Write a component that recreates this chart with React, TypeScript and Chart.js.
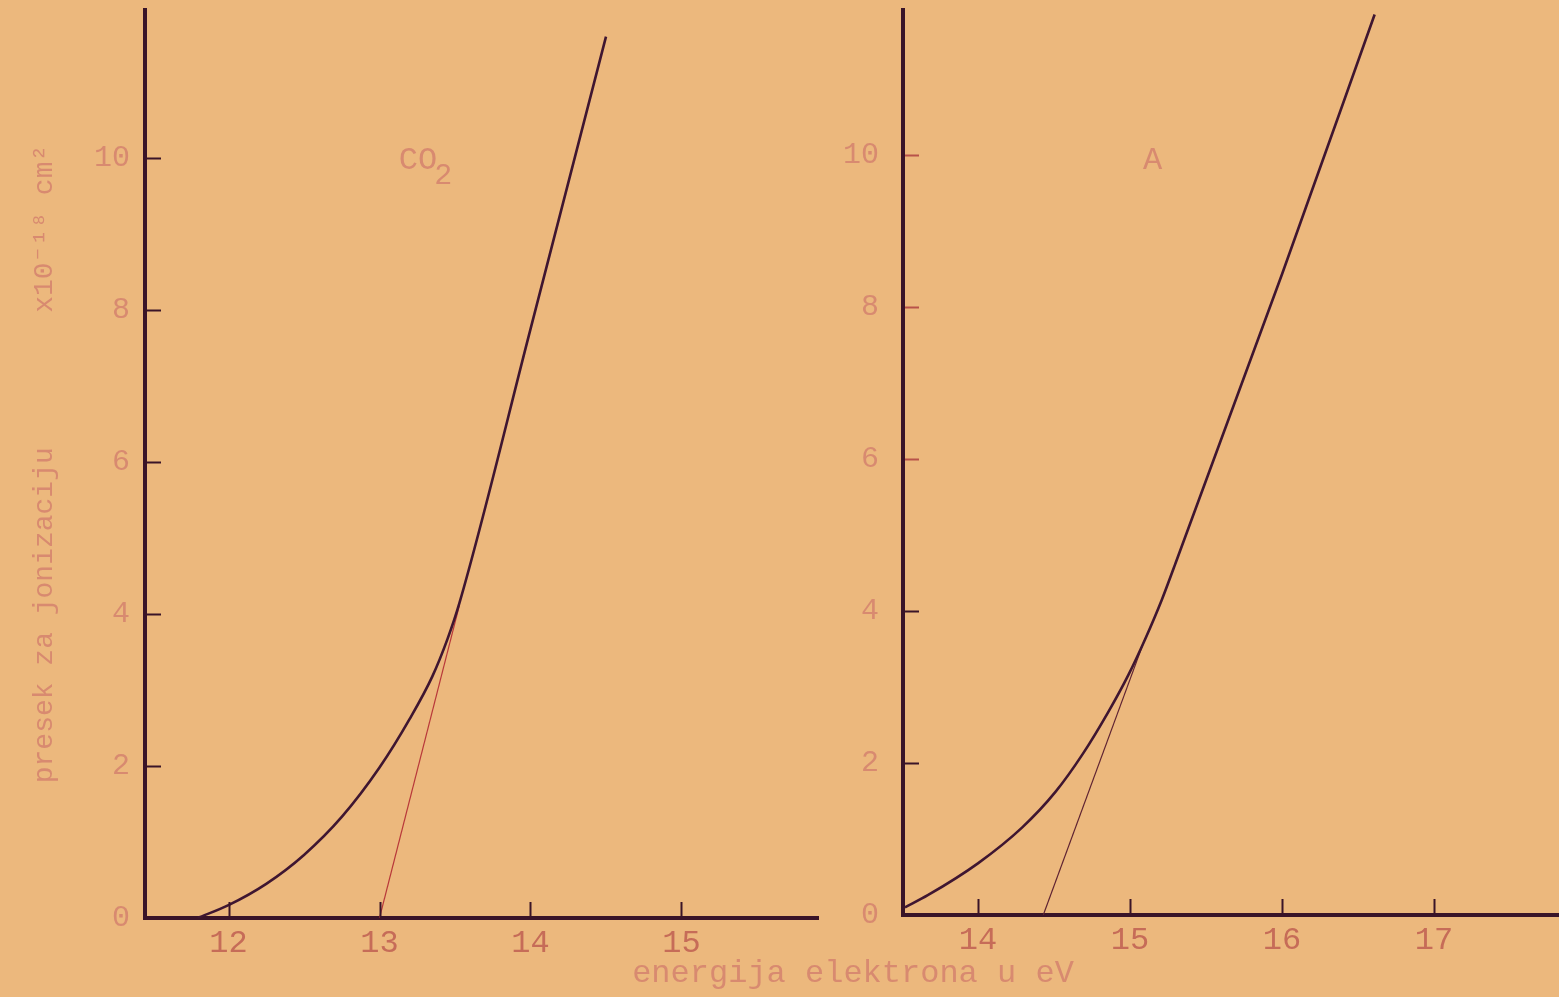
import React, { useEffect, useRef } from 'react';
import { Chart, registerables } from 'chart.js';

Chart.register(...registerables);

// ---- data ----
// CO2 panel
const co2Energy = [11.795, 12.0, 12.25, 12.5, 12.75, 13.0, 13.2, 13.35, 13.45, 13.53, 14.0, 14.5];
const co2Cross = [0, 0.17, 0.45, 0.83, 1.33, 1.98, 2.62, 3.18, 3.67, 4.15, 7.75, 11.6];
const co2TangentEnergy = [13.0, 13.53];
const co2TangentCross = [0, 4.12];
const co2XTicks = [12, 13, 14, 15];

// Argon panel
const arEnergy = [13.52, 13.67, 14.0, 14.29, 14.51, 14.69, 14.86, 14.99, 15.1, 15.21, 15.3, 16.0, 16.61];
const arCross = [0.1, 0.26, 0.68, 1.15, 1.62, 2.12, 2.68, 3.16, 3.63, 4.15, 4.63, 8.43, 11.85];
const arTangentEnergy = [14.43, 15.1];
const arTangentCross = [0, 3.64];
const arXTicks = [14, 15, 16, 17];

const yTicks = [0, 2, 4, 6, 8, 10];

const yTitle = 'presek za jonizaciju        x10⁻¹⁸ cm²';
const xTitle = 'energija elektrona u eV';

// ---- styles ----
const PAPER = '#ecb87d';
const AXIS = '#3a1428';
const CURVE = '#3f1631';
const INK_RED = '#c66c58';
const INK_FAINT = '#d88a70';
const FONT = '"Liberation Mono", "DejaVu Sans Mono", monospace';

const decorPlugin = {
  id: 'panelDecor',
  afterDraw(chart: any, _args: any, opts: any) {
    const ctx = chart.ctx;
    const xs = chart.scales.x;
    const ys = chart.scales.y;
    const area = chart.chartArea;
    ctx.save();
    ctx.lineCap = 'butt';
    // inward tick marks on x axis
    (opts.xTicks || []).forEach((v: number) => {
      const px = Math.round(xs.getPixelForValue(v)) + 0.5;
      ctx.strokeStyle = AXIS;
      ctx.lineWidth = 2;
      ctx.beginPath();
      ctx.moveTo(px, area.bottom);
      ctx.lineTo(px, area.bottom - opts.tickLen);
      ctx.stroke();
    });
    // inward tick marks on y axis
    (opts.yTicks || []).forEach((v: number, i: number) => {
      if (v === 0) return;
      const py = Math.round(ys.getPixelForValue(v)) + 0.5;
      ctx.strokeStyle = (opts.yTickColors && opts.yTickColors[i]) || AXIS;
      ctx.lineWidth = 2;
      ctx.beginPath();
      ctx.moveTo(area.left + 2, py);
      ctx.lineTo(area.left + opts.tickLen, py);
      ctx.stroke();
    });
    // gas label
    if (opts.label) {
      const lx = xs.getPixelForValue(opts.label.x);
      const ly = ys.getPixelForValue(opts.label.y);
      ctx.fillStyle = INK_FAINT;
      ctx.font = `32px ${FONT}`;
      ctx.textAlign = 'center';
      ctx.textBaseline = 'middle';
      ctx.fillText(opts.label.text, lx, ly);
      if (opts.label.sub) {
        const w = ctx.measureText(opts.label.text).width;
        ctx.font = `30px ${FONT}`;
        ctx.textAlign = 'left';
        ctx.fillText(opts.label.sub, lx + w / 2 - 3, ly + 16);
      }
    }
    ctx.restore();
  },
};

function pts(xs: number[], ys: number[]) {
  return xs.map((x, i) => ({ x, y: ys[i] }));
}

function makeConfig(p: any) {
  return {
    type: 'line',
    data: {
      datasets: [
        {
          data: pts(p.curveE, p.curveS),
          borderColor: CURVE,
          borderWidth: 2.6,
          pointRadius: 0,
          cubicInterpolationMode: 'monotone',
          fill: false,
        },
        {
          data: pts(p.tanE, p.tanS),
          borderColor: p.tangentColor,
          borderWidth: 1.2,
          pointRadius: 0,
          tension: 0,
          fill: false,
        },
      ],
    },
    options: {
      animation: false,
      responsive: false,
      maintainAspectRatio: false,
      layout: { padding: { top: 10, right: p.padRight, left: 0, bottom: 0 } },
      plugins: {
        legend: { display: false },
        tooltip: { enabled: false },
        panelDecor: {
          xTicks: p.xTicks,
          yTicks: yTicks,
          yTickColors: p.yTickColors,
          tickLen: 16,
          label: p.label,
        },
      },
      scales: {
        x: {
          type: 'linear',
          min: p.xMin,
          max: p.xMax,
          afterBuildTicks: (s: any) => {
            s.ticks = p.xTicks.map((v: number) => ({ value: v }));
          },
          afterFit: (s: any) => {
            s.height = p.xHeight;
            s.paddingLeft = 0;
            s.paddingRight = 0;
          },
          grid: { display: true, drawOnChartArea: false, drawTicks: false, color: 'rgba(0,0,0,0)' },
          border: { display: true, color: AXIS, width: 4 },
          ticks: { color: INK_RED, font: { family: FONT, size: 32 }, padding: 6, maxRotation: 0 },
        },
        y: {
          type: 'linear',
          min: 0,
          max: p.yMax,
          afterBuildTicks: (s: any) => {
            s.ticks = yTicks.map((v) => ({ value: v }));
          },
          afterFit: (s: any) => {
            s.width = p.yWidth;
            s.paddingTop = 0;
            s.paddingBottom = 0;
          },
          grid: { display: true, drawOnChartArea: false, drawTicks: false, color: 'rgba(0,0,0,0)' },
          border: { display: true, color: AXIS, width: 4 },
          ticks: { color: INK_FAINT, font: { family: FONT, size: 30 }, padding: p.yPad },
          title: p.yTitle
            ? {
                display: true,
                text: p.yTitle,
                color: INK_FAINT,
                font: { family: FONT, size: 28 },
                padding: { top: 28, bottom: 0 },
              }
            : { display: false },
        },
      },
    },
    plugins: [decorPlugin],
  };
}

function Panel(props: { cfg: any; left: number; width: number }) {
  const ref = useRef<HTMLCanvasElement>(null);
  useEffect(() => {
    if (!ref.current) return;
    const chart = new Chart(ref.current, props.cfg as any);
    return () => chart.destroy();
  }, []);
  return (
    <canvas
      ref={ref}
      width={props.width}
      height={997}
      style={{ position: 'absolute', left: props.left, top: 0, width: props.width, height: 997 }}
    />
  );
}

const co2Cfg = makeConfig({
  curveE: co2Energy,
  curveS: co2Cross,
  tanE: co2TangentEnergy,
  tanS: co2TangentCross,
  tangentColor: '#b8383a',
  xTicks: co2XTicks,
  xMin: 11.447,
  xMax: 15.904,
  yMax: 11.95,
  xHeight: 79,
  yWidth: 145,
  yPad: 15,
  padRight: 22,
  yTickColors: [AXIS, AXIS, AXIS, AXIS, AXIS, AXIS],
  yTitle: yTitle,
  label: { x: 13.255, y: 9.97, text: 'CO', sub: '2' },
});

const arCfg = makeConfig({
  curveE: arEnergy,
  curveS: arCross,
  tanE: arTangentEnergy,
  tanS: arTangentCross,
  tangentColor: '#5e2232',
  xTicks: arXTicks,
  xMin: 13.507,
  xMax: 17.823,
  yMax: 11.91,
  xHeight: 82,
  yWidth: 63,
  yPad: 24,
  padRight: 0,
  yTickColors: [AXIS, AXIS, AXIS, '#b8524a', '#b8524a', '#b8524a'],
  yTitle: null,
  label: { x: 15.15, y: 9.93, text: 'A' },
});

export default function App() {
  return (
    <div
      style={{
        position: 'fixed',
        left: 0,
        top: 0,
        width: 1559,
        height: 997,
        background: PAPER,
        overflow: 'hidden',
      }}
    >
      <Panel cfg={co2Cfg} left={0} width={840} />
      <Panel cfg={arCfg} left={840} width={719} />
      <div
        style={{
          position: 'absolute',
          left: 453,
          width: 800,
          top: 955,
          textAlign: 'center',
          fontFamily: FONT,
          fontSize: 32,
          lineHeight: '38px',
          color: INK_FAINT,
          whiteSpace: 'pre',
        }}
      >
        {xTitle}
      </div>
    </div>
  );
}
